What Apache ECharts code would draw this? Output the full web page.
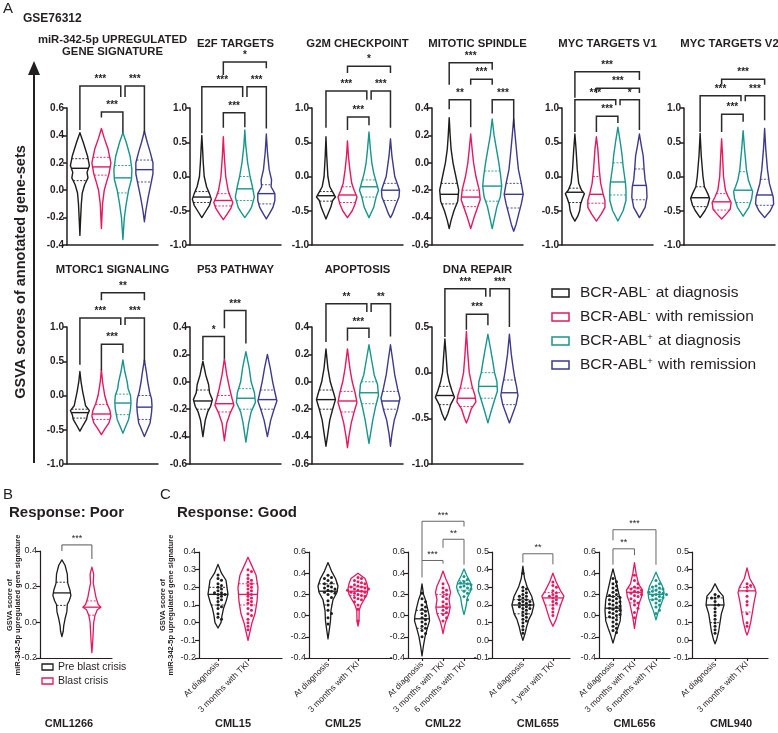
<!DOCTYPE html>
<html><head><meta charset="utf-8">
<script src="https://cdn.jsdelivr.net/npm/echarts@6/dist/echarts.min.js"></script>
<style>html,body{margin:0;padding:0;background:#fff}#c{width:778px;height:733px}</style>
</head><body><div id="c"></div>
<script>
// ================= DATA =================
// Panel A (GSE76312)
const groupNamesA = ['BCR-ABL{s|-} at diagnosis','BCR-ABL{s|-} with remission','BCR-ABL{s|+} at diagnosis','BCR-ABL{s|+} with remission'];
const titlesA = ['miR-342-5p UPREGULATED\nGENE SIGNATURE','E2F TARGETS','G2M CHECKPOINT','MITOTIC SPINDLE','MYC TARGETS V1','MYC TARGETS V2','MTORC1 SIGNALING','P53 PATHWAY','APOPTOSIS','DNA REPAIR'];
const yMinA = [-0.4,-1,-1,-0.6,-1,-1,-1,-0.6,-0.6,-1];
const yMaxA = [0.6,1,1,0.4,1,1,1,0.4,0.4,0.5];
const yStepA = [0.2,0.5,0.5,0.2,0.5,0.5,0.5,0.2,0.2,0.5];

// violin outlines: [value, relative half-width] from top to bottom
const shapeMiR = [
 [[0.42,0],[0.35,0.35],[0.25,0.8],[0.18,1.0],[0.13,0.75],[0.09,0.85],[0.04,0.5],[-0.02,0.25],[-0.1,0.15],[-0.2,0.08],[-0.33,0]],
 [[0.45,0],[0.38,0.3],[0.3,0.7],[0.2,1.0],[0.12,0.8],[0.05,0.5],[0.0,0.3],[-0.1,0.12],[-0.28,0]],
 [[0.42,0],[0.35,0.35],[0.25,0.75],[0.15,0.95],[0.08,0.9],[0.0,0.6],[-0.1,0.35],[-0.2,0.15],[-0.36,0]],
 [[0.43,0],[0.35,0.3],[0.28,0.6],[0.2,0.9],[0.12,0.9],[0.05,0.7],[-0.05,0.4],[-0.15,0.15],[-0.23,0]]];
const shapeE2F = [
 [[0.6,0],[0.4,0.08],[0.2,0.15],[0.0,0.25],[-0.15,0.5],[-0.25,0.8],[-0.33,1.0],[-0.42,0.8],[-0.5,0.45],[-0.6,0]],
 [[0.58,0],[0.3,0.1],[0.0,0.25],[-0.2,0.5],[-0.3,0.75],[-0.38,1.0],[-0.46,0.8],[-0.55,0.4],[-0.63,0]],
 [[0.68,0],[0.45,0.1],[0.2,0.3],[0.0,0.55],[-0.15,0.8],[-0.3,1.0],[-0.45,0.7],[-0.52,0.4],[-0.6,0]],
 [[0.62,0],[0.35,0.12],[0.1,0.3],[-0.05,0.55],[-0.15,0.5],[-0.25,0.9],[-0.35,0.9],[-0.45,0.7],[-0.55,0.3],[-0.62,0]]];
const shapeG2M = [
 [[0.58,0],[0.3,0.08],[0.0,0.2],[-0.15,0.4],[-0.25,0.8],[-0.3,1.0],[-0.35,0.7],[-0.45,0.5],[-0.55,0.2],[-0.62,0]],
 [[0.52,0],[0.3,0.1],[0.1,0.25],[-0.1,0.45],[-0.2,0.7],[-0.3,1.0],[-0.4,0.8],[-0.5,0.5],[-0.6,0]],
 [[0.65,0],[0.4,0.15],[0.2,0.3],[0.05,0.5],[-0.1,0.8],[-0.2,1.0],[-0.3,0.75],[-0.45,0.5],[-0.6,0]],
 [[0.55,0],[0.3,0.15],[0.1,0.35],[0.0,0.45],[-0.1,0.7],[-0.2,0.95],[-0.3,0.9],[-0.4,0.6],[-0.55,0.2],[-0.6,0]]];
const shapeMitotic = [
 [[0.33,0],[0.2,0.1],[0.1,0.2],[0.0,0.4],[-0.1,0.7],[-0.2,1.0],[-0.28,0.9],[-0.35,0.5],[-0.42,0.2],[-0.48,0]],
 [[0.21,0],[0.1,0.15],[0.0,0.3],[-0.1,0.55],[-0.2,0.9],[-0.27,1.0],[-0.33,0.7],[-0.4,0.35],[-0.48,0]],
 [[0.32,0],[0.2,0.2],[0.1,0.45],[0.0,0.7],[-0.1,0.9],[-0.17,1.0],[-0.25,0.85],[-0.32,0.5],[-0.4,0.25],[-0.48,0]],
 [[0.32,0],[0.2,0.15],[0.05,0.35],[-0.05,0.5],[-0.15,0.8],[-0.23,1.0],[-0.3,0.8],[-0.38,0.5],[-0.45,0.25],[-0.5,0]]];
const shapeMYC1 = [
 [[0.62,0],[0.4,0.12],[0.1,0.25],[-0.1,0.4],[-0.2,0.7],[-0.25,1.0],[-0.32,0.8],[-0.4,0.6],[-0.5,0.5],[-0.58,0.3],[-0.65,0]],
 [[0.58,0],[0.4,0.15],[0.1,0.3],[-0.1,0.45],[-0.25,0.7],[-0.35,0.9],[-0.45,0.9],[-0.55,0.5],[-0.65,0]],
 [[0.72,0],[0.5,0.25],[0.3,0.45],[0.15,0.55],[0.0,0.7],[-0.1,0.8],[-0.2,0.85],[-0.35,0.85],[-0.5,0.55],[-0.65,0]],
 [[0.62,0],[0.45,0.2],[0.3,0.4],[0.1,0.5],[-0.05,0.6],[-0.15,0.75],[-0.3,0.8],[-0.45,0.6],[-0.6,0]]];
const shapeMYC2 = [
 [[0.63,0],[0.3,0.12],[0.0,0.3],[-0.15,0.45],[-0.25,0.8],[-0.32,1.0],[-0.42,0.8],[-0.5,0.5],[-0.6,0]],
 [[0.55,0],[0.3,0.1],[0.0,0.2],[-0.2,0.4],[-0.3,0.7],[-0.38,1.0],[-0.48,0.9],[-0.56,0.4],[-0.62,0]],
 [[0.67,0],[0.4,0.15],[0.1,0.35],[-0.05,0.55],[-0.15,0.8],[-0.22,1.0],[-0.32,0.9],[-0.45,0.6],[-0.58,0]],
 [[0.7,0],[0.4,0.12],[0.1,0.3],[-0.1,0.5],[-0.2,0.7],[-0.3,0.9],[-0.4,0.95],[-0.5,0.6],[-0.6,0]]];
const shapeMTORC1 = [
 [[0.35,0],[0.2,0.12],[0.05,0.3],[-0.05,0.45],[-0.15,0.6],[-0.22,1.0],[-0.28,0.8],[-0.35,0.7],[-0.42,0.4],[-0.52,0]],
 [[0.38,0],[0.2,0.12],[0.0,0.35],[-0.12,0.6],[-0.22,0.9],[-0.3,1.0],[-0.4,0.8],[-0.48,0.4],[-0.57,0]],
 [[0.52,0],[0.35,0.2],[0.2,0.45],[0.1,0.55],[0.0,0.8],[-0.1,0.85],[-0.2,0.8],[-0.35,0.6],[-0.45,0.3],[-0.55,0]],
 [[0.52,0],[0.35,0.2],[0.2,0.35],[0.05,0.55],[-0.05,0.75],[-0.15,0.8],[-0.25,0.75],[-0.4,0.6],[-0.5,0.3],[-0.6,0]]];
const shapeP53 = [
 [[0.15,0],[0.05,0.3],[-0.02,0.6],[-0.08,0.7],[-0.13,1.0],[-0.18,0.8],[-0.22,0.5],[-0.28,0.25],[-0.4,0]],
 [[0.17,0],[0.05,0.25],[-0.05,0.55],[-0.12,0.8],[-0.17,1.0],[-0.23,0.6],[-0.3,0.25],[-0.43,0]],
 [[0.22,0],[0.1,0.35],[0.0,0.55],[-0.08,0.9],[-0.15,1.0],[-0.22,0.55],[-0.3,0.3],[-0.44,0]],
 [[0.2,0],[0.1,0.3],[0.0,0.55],[-0.08,0.8],[-0.14,1.0],[-0.2,0.7],[-0.28,0.35],[-0.4,0]]];
const shapeApop = [
 [[0.24,0],[0.1,0.2],[0.0,0.45],[-0.08,0.8],[-0.13,1.0],[-0.2,0.7],[-0.28,0.4],[-0.4,0.15],[-0.47,0]],
 [[0.24,0],[0.1,0.25],[0.0,0.5],[-0.08,0.8],[-0.15,1.0],[-0.22,0.7],[-0.3,0.4],[-0.4,0.15],[-0.48,0]],
 [[0.27,0],[0.15,0.3],[0.05,0.55],[-0.02,0.9],[-0.1,1.0],[-0.18,0.7],[-0.28,0.4],[-0.45,0]],
 [[0.27,0],[0.15,0.25],[0.05,0.45],[-0.05,0.75],[-0.12,1.0],[-0.2,0.75],[-0.28,0.4],[-0.38,0.15],[-0.47,0]]];
const shapeDNA = [
 [[0.37,0],[0.2,0.12],[0.0,0.25],[-0.1,0.45],[-0.2,0.75],[-0.27,1.0],[-0.35,0.6],[-0.45,0.3],[-0.52,0]],
 [[0.45,0],[0.2,0.15],[0.0,0.3],[-0.15,0.6],[-0.25,0.9],[-0.32,1.0],[-0.4,0.5],[-0.5,0.2],[-0.55,0]],
 [[0.42,0],[0.25,0.3],[0.1,0.55],[0.0,0.7],[-0.1,0.95],[-0.2,1.0],[-0.3,0.7],[-0.42,0.35],[-0.55,0]],
 [[0.42,0],[0.2,0.2],[0.05,0.4],[-0.05,0.55],[-0.15,0.75],[-0.25,0.9],[-0.35,0.7],[-0.45,0.35],[-0.55,0]]];
const shapesA = [shapeMiR,shapeE2F,shapeG2M,shapeMitotic,shapeMYC1,shapeMYC2,shapeMTORC1,shapeP53,shapeApop,shapeDNA];

const medA = [
 [0.16,0.17,0.09,0.15],[-0.30,-0.35,-0.18,-0.25],[-0.28,-0.27,-0.15,-0.20],[-0.23,-0.25,-0.17,-0.23],
 [-0.23,-0.26,-0.08,-0.13],[-0.31,-0.37,-0.20,-0.27],[-0.25,-0.27,-0.11,-0.17],[-0.14,-0.16,-0.12,-0.13],
 [-0.13,-0.14,-0.08,-0.14],[-0.25,-0.28,-0.15,-0.22]];
const quartA = [
 [[0.23,0.07],[0.24,0.11],[0.18,-0.02],[0.22,0.06]],
 [[-0.22,-0.38],[-0.25,-0.43],[0.0,-0.35],[-0.12,-0.4]],
 [[-0.22,-0.36],[-0.15,-0.38],[-0.05,-0.3],[-0.1,-0.35]],
 [[-0.15,-0.3],[-0.2,-0.32],[-0.06,-0.28],[-0.15,-0.33]],
 [[-0.17,-0.38],[0.0,-0.39],[0.2,-0.27],[0.11,-0.34]],
 [[-0.15,-0.44],[-0.25,-0.49],[0.07,-0.38],[-0.04,-0.42]],
 [[-0.2,-0.33],[-0.13,-0.35],[0.02,-0.28],[0.0,-0.35]],
 [[-0.06,-0.2],[-0.1,-0.22],[-0.05,-0.2],[-0.06,-0.2]],
 [[-0.06,-0.2],[-0.07,-0.22],[0.0,-0.16],[-0.07,-0.2]],
 [[-0.15,-0.35],[-0.17,-0.37],[0.0,-0.28],[-0.08,-0.35]]];
// significance brackets: [group i, group j, bar value, left leg end, right leg end, label, left shift, right shift]
const sigA = [
 [[0,2,0.76,0.44,0.68,'***',0,-0.1],[2,3,0.76,0.68,0.42,'***',0.1,0],[1,2,0.57,0.53,0.42,'***',0,0]],
 [[1,3,1.67,1.48,1.58,'*',0,0],[0,2,1.31,0.63,1.16,'***',0,-0.1],[2,3,1.31,1.16,0.7,'***',0.1,0],[1,2,0.93,0.71,0.72,'***',0,0]],
 [[1,3,1.61,1.51,1.51,'*',0,0],[0,2,1.25,0.71,1.12,'***',0,-0.1],[2,3,1.25,1.12,0.71,'***',0.1,0],[1,2,0.87,0.68,0.75,'***',0,0]],
 [[0,2,0.73,0.57,0.68,'***',0,0],[1,2,0.61,0.57,0.57,'***',0,0],[0,1,0.46,0.39,0.26,'**',0,0],[2,3,0.46,0.36,0.26,'***',0,0]],
 [[0,3,1.53,1.15,1.41,'***',0,0],[1,3,1.29,1.22,1.22,'***',0,0],[0,2,1.12,0.65,1.04,'***',0,-0.1],[2,3,1.12,1.04,0.68,'*',0.1,0],[1,2,0.88,0.65,0.78,'***',0,0]],
 [[1,3,1.42,1.34,1.34,'***',0,0],[0,2,1.18,0.65,1.1,'***',0,-0.1],[2,3,1.18,1.1,0.82,'***',0.1,0],[1,2,0.91,0.65,0.8,'***',0,0]],
 [[1,3,1.5,1.39,1.39,'**',0,0],[0,2,1.13,0.45,1.03,'***',0,-0.1],[2,3,1.13,1.03,0.49,'***',0.1,0],[1,2,0.75,0.37,0.62,'***',0,0]],
 [[0,1,0.33,0.16,0.17,'*',0,0],[1,2,0.52,0.39,0.28,'***',0,0]],
 [[0,2,0.57,0.29,0.51,'**',0,-0.1],[2,3,0.57,0.51,0.33,'**',0.1,0],[1,2,0.39,0.3,0.32,'***',0,0]],
 [[0,2,0.92,0.39,0.83,'***',0,-0.1],[2,3,0.92,0.83,0.5,'***',0.1,0],[1,2,0.64,0.47,0.52,'***',0,0]]];

// Panel B (Response: Poor, CML1266)
const groupNamesB = ['Pre blast crisis','Blast crisis'];
const shapeB = [
 [[0.35,0],[0.32,0.35],[0.27,0.6],[0.22,0.65],[0.18,0.9],[0.15,1.0],[0.12,0.8],[0.1,0.6],[0.06,0.55],[0.02,0.35],[-0.02,0.2],[-0.05,0.15],[-0.08,0]],
 [[0.31,0],[0.27,0.2],[0.22,0.15],[0.18,0.3],[0.14,0.45],[0.1,0.7],[0.085,1.0],[0.07,0.6],[0.04,0.35],[0.0,0.2],[-0.05,0.15],[-0.1,0.1],[-0.17,0]]];
const medB = [0.165,0.085];
const quartB = [[0.225,0.095],[0.12,0.04]];
const sigB = [[0,1,0.434,0.40,0.355,'***',0,0]];

// Panel C (Response: Good)
const namesC = ['CML15','CML25','CML22','CML655','CML656','CML940'];
const catsC = [
 ['At diagnosis','3 months with TKI'],['At diagnosis','3 months with TKI'],
 ['At diagnosis','3 months with TKI','6 months with TKI'],['At diagnosis','1 year with TKI'],
 ['At diagnosis','3 months with TKI','6 months with TKI'],['At diagnosis','3 months with TKI']];
const yMinC = [-0.2,-0.4,-0.4,-0.1,-0.4,-0.1];
const yMaxC = [0.4,0.6,0.6,0.5,0.6,0.5];
const yStepC = [0.1,0.2,0.2,0.1,0.2,0.1];
const shapesC = [
 [[[0.33,0],[0.28,0.35],[0.24,0.8],[0.2,0.9],[0.16,1.0],[0.12,0.8],[0.08,0.55],[0.04,0.4],[0.0,0.3],[-0.03,0]],
  [[0.37,0],[0.32,0.4],[0.27,0.8],[0.2,1.0],[0.12,0.9],[0.05,0.7],[0.0,0.4],[-0.05,0.2],[-0.1,0]]],
 [[[0.5,0],[0.42,0.35],[0.35,0.75],[0.28,1.0],[0.22,0.9],[0.15,0.5],[0.05,0.3],[-0.05,0.25],[-0.12,0.15],[-0.22,0]],
  [[0.4,0],[0.35,0.7],[0.3,0.9],[0.25,1.0],[0.2,0.9],[0.15,0.6],[0.1,0.3],[0.05,0.12],[-0.05,0.1],[-0.1,0]]],
 [[[0.3,0],[0.2,0.2],[0.15,0.45],[0.08,0.7],[0.0,0.95],[-0.05,1.0],[-0.12,0.7],[-0.2,0.4],[-0.28,0.2],[-0.38,0]],
  [[0.42,0],[0.35,0.35],[0.28,0.8],[0.22,1.0],[0.15,0.8],[0.08,0.95],[0.02,0.8],[-0.05,0.4],[-0.1,0.2],[-0.17,0]],
  [[0.44,0],[0.38,0.35],[0.32,0.8],[0.27,1.0],[0.22,0.8],[0.17,0.45],[0.1,0.3],[0.05,0.15],[0.01,0]]],
 [[[0.42,0],[0.35,0.15],[0.3,0.4],[0.25,0.8],[0.2,1.0],[0.15,0.8],[0.12,0.55],[0.08,0.35],[0.04,0.2],[0.0,0]],
  [[0.38,0],[0.33,0.3],[0.28,0.7],[0.25,1.0],[0.2,0.7],[0.15,0.45],[0.12,0.3],[0.08,0]]],
 [[[0.44,0],[0.35,0.3],[0.25,0.6],[0.15,0.9],[0.05,1.0],[-0.05,0.9],[-0.12,0.6],[-0.18,0.3],[-0.26,0]],
  [[0.5,0],[0.4,0.2],[0.3,0.5],[0.24,1.0],[0.18,0.9],[0.12,0.6],[0.05,0.4],[-0.02,0.2],[-0.12,0]],
  [[0.41,0],[0.34,0.4],[0.28,0.8],[0.22,1.0],[0.16,0.9],[0.1,0.6],[0.04,0.3],[-0.04,0]]],
 [[[0.32,0],[0.28,0.4],[0.25,0.9],[0.2,1.0],[0.15,0.7],[0.1,0.55],[0.05,0.4],[0.0,0.15],[-0.02,0]],
  [[0.41,0],[0.35,0.3],[0.3,0.85],[0.27,1.0],[0.22,0.8],[0.16,0.6],[0.1,0.4],[0.05,0.15],[0.03,0]]]];
const medC = [[0.16,0.16],[0.23,0.23],[-0.03,0.08,0.3],[0.2,0.24],[0.07,0.22,0.2],[0.2,0.28]];
const quartC = [
 [[0.2,0.1],[0.22,0.1]],[[0.3,0.1],[0.27,0.19]],[[0.05,-0.12],[0.2,0.02],[0.33,0.24]],
 [[0.23,0.15],[0.27,0.2]],[[0.18,-0.02],[0.26,0.12],[0.25,0.15]],[[0.24,0.1],[0.3,0.16]]];
const dotsC = [
 [[0.27,0.25,0.24,0.22,0.21,0.2,0.19,0.18,0.17,0.17,0.16,0.16,0.15,0.14,0.13,0.12,0.1,0.09,0.08,0.05,0.03,0.02],
  [0.3,0.29,0.27,0.25,0.24,0.23,0.22,0.21,0.2,0.19,0.18,0.17,0.16,0.15,0.14,0.13,0.12,0.11,0.1,0.08,0.07,0.05,0.04,0.02,0.0,-0.02,-0.04]],
 [[0.38,0.36,0.35,0.33,0.31,0.3,0.28,0.27,0.26,0.25,0.24,0.23,0.22,0.21,0.2,0.17,0.14,0.1,0.05,0.02,-0.02,-0.08],
  [0.36,0.35,0.33,0.32,0.31,0.3,0.29,0.28,0.27,0.27,0.26,0.25,0.25,0.24,0.24,0.23,0.22,0.22,0.21,0.2,0.19,0.18,0.17,0.16,0.15,0.13,0.1,0.06,-0.05]],
 [[0.21,0.16,0.13,0.1,0.08,0.06,0.04,0.02,0.0,-0.02,-0.04,-0.06,-0.08,-0.1,-0.12,-0.14,-0.17,-0.2],
  [0.3,0.26,0.24,0.22,0.2,0.18,0.16,0.13,0.11,0.09,0.07,0.05,0.03,0.01,-0.02,-0.05],
  [0.37,0.34,0.32,0.31,0.3,0.29,0.28,0.27,0.26,0.25,0.23,0.21,0.18,0.15]],
 [[0.38,0.3,0.29,0.28,0.27,0.26,0.25,0.25,0.24,0.23,0.23,0.22,0.22,0.21,0.21,0.2,0.2,0.19,0.19,0.18,0.18,0.17,0.16,0.15,0.14,0.13,0.12,0.11,0.1,0.08,0.06,0.04],
  [0.33,0.31,0.3,0.28,0.27,0.26,0.25,0.25,0.24,0.23,0.22,0.21,0.2,0.18,0.16,0.14]],
 [[0.35,0.32,0.3,0.28,0.26,0.24,0.22,0.2,0.19,0.18,0.17,0.16,0.15,0.14,0.13,0.12,0.11,0.1,0.09,0.08,0.07,0.06,0.05,0.04,0.03,0.02,0.01,0.0,-0.01,-0.02,-0.04,-0.06,-0.08,-0.1,-0.12,-0.14,-0.16],
  [0.38,0.33,0.3,0.27,0.26,0.25,0.24,0.23,0.22,0.21,0.2,0.19,0.18,0.16,0.14,0.12,0.1,0.07,0.03,-0.02],
  [0.33,0.3,0.28,0.27,0.26,0.25,0.24,0.23,0.22,0.22,0.21,0.2,0.2,0.19,0.18,0.17,0.16,0.15,0.14,0.12,0.1,0.08,0.05,0.02]],
 [[0.26,0.25,0.24,0.24,0.22,0.2,0.2,0.18,0.16,0.14,0.12,0.1,0.08,0.06,0.04],
  [0.32,0.31,0.3,0.28,0.25,0.22,0.2,0.15,0.1,0.08]]];
const sigC = [[],[],
 [[0,2,0.89,0.52,0.84,'***',0,0],[1,2,0.72,0.64,0.48,'**',0,0],[0,1,0.52,0.36,0.49,'***',0,0]],
 [[0,1,0.49,0.44,0.43,'**',0,0]],
 [[0,2,0.81,0.71,0.48,'***',0,0],[0,1,0.63,0.48,0.57,'**',0,0]],[]];

// ================= LAYOUT / STYLE =================
const COLORS = ['#1d1d1b','#e5195e','#17968c','#3d3a8d'];
const INK = '#231f20';
const FONT = '"Liberation Sans", Arial, Helvetica, sans-serif';
// [left, top, width, height, xMin]
const layoutA = [[67,108,91,137,-0.6],[190,108,91,137,-0.55],[312,108,91,137,-0.65],[432,108,91,137,-0.8],[562,108,91,137,-0.6],[684,108,91,137,-0.75],
                 [67,327,91,137,-0.6],[190,327,91,137,-0.6],[312,327,91,137,-0.65],[432,327,91,137,-0.6]];
const unitA = 21.5;
// [left, top, width, height, xMin, unitPx, halfWidthPx]
const layoutC = [[199,552,83,106,-0.633,30,10],[309,552,83,106,-0.633,30,10],[408,552,70,106,-0.667,21,7.5],
                 [492,552,78,106,-1.03,30,11],[599,552,71,106,-0.65,21.5,8],[692,552,76,106,-0.72,32,9]];
const layoutB = [40,551,72,107,-0.73,30,9];
const DOT_R = 1.5;

const option = {animation:false, grid:[], xAxis:[], yAxis:[], series:[], graphic:{elements:[]}};
const G = option.graphic.elements;

function fmt1(v){ if (Math.abs(v) < 1e-9) v = 0; return v.toFixed(1); }
function interpW(shape, y){
  for (let k=0;k<shape.length-1;k++){
    const [y0,w0]=shape[k],[y1,w1]=shape[k+1];
    if (y<=y0 && y>=y1) return w0 + (w1-w0)*(y-y0)/(y1-y0);
  }
  return 0;
}
function swarm(pys, r){
  const d = 2*r + 0.5, placed = [], out = new Array(pys.length);
  const order = pys.map((y,k)=>k).sort((a,b)=>pys[a]-pys[b]);
  order.forEach(k=>{
    const y = pys[k];
    for (let s=0;s<60;s++){
      const off = s===0 ? 0 : (s%2 ? 1 : -1)*Math.ceil(s/2)*d;
      if (placed.every(p => (p[0]-off)*(p[0]-off) + (p[1]-y)*(p[1]-y) >= d*d*0.9)) { placed.push([off,y]); out[k]=off; break; }
    }
  });
  return out;
}
function txt(text, x, y, font, o){
  o = o || {};
  return {type:'text', x:x, y:y, rotation:o.rot||0, silent:true,
    style:{text:text, font:font, fill:o.fill||INK, textAlign:o.align||'left', align:o.align||'left',
      textVerticalAlign:o.va||'middle', verticalAlign:o.va||'middle', lineHeight:o.lh, rich:o.rich}};
}

function addPlot(c){
  const gi = option.grid.length;
  option.grid.push({left:c.left, top:c.top, width:c.width, height:c.height});
  const axisLineStyle = {color:INK, width:c.axisW};
  const xa = {type:'value', gridIndex:gi, min:c.xMin, max:c.xMax, splitLine:{show:false},
    axisLine:{show:true, onZero:false, lineStyle:axisLineStyle}, axisTick:{show:false}, axisLabel:{show:false}};
  if (c.cats){
    const idx = c.cats.map((_,i)=>i);
    xa.axisTick = {show:true, customValues:idx, length:3, lineStyle:axisLineStyle};
    xa.axisLabel = {show:true, customValues:idx, rotate:45, margin:5, fontSize:8.5, fontFamily:FONT, color:INK,
      formatter:v=>c.cats[Math.round(v)]};
  }
  option.xAxis.push(xa);
  option.yAxis.push({type:'value', gridIndex:gi, min:c.yMin, max:c.yMax, interval:c.yStep, splitLine:{show:false},
    axisLine:{show:true, onZero:false, lineStyle:axisLineStyle}, axisTick:{show:true, length:4, lineStyle:axisLineStyle},
    axisLabel:{formatter:fmt1, fontSize:c.tickFont, fontWeight:c.tickBold?'bold':'normal', fontFamily:FONT, color:INK, margin:3}});
  option.series.push({type:'custom', xAxisIndex:gi, yAxisIndex:gi, silent:true, clip:false,
    data:c.med.map((m,i)=>[i,m]),
    renderItem:function(params, api){
      const i = params.dataIndex, shape = c.shapes[i], col = c.colors[i], H = c.H;
      const cx = api.coord([i, shape[0][0]])[0];
      const pts = [];
      shape.forEach(([y,w]) => pts.push([cx + w*H, api.coord([i,y])[1]]));
      for (let k=shape.length-2;k>=1;k--){ const [y,w]=shape[k]; pts.push([cx - w*H, api.coord([i,y])[1]]); }
      const ch = [{type:'polygon', shape:{points:pts}, style:{fill:'none', stroke:col, lineWidth:c.lw, lineJoin:'round'}}];
      const hl = (y, dash) => { const w = interpW(shape,y)*H, py = api.coord([i,y])[1];
        return {type:'line', shape:{x1:cx-w, y1:py, x2:cx+w, y2:py}, style:{stroke:col, lineWidth:dash?0.9:c.lw, lineDash:dash?[2,1.5]:null}}; };
      ch.push(hl(c.med[i], false));
      c.quart[i].forEach(q => ch.push(hl(q, true)));
      if (c.dots){
        const pys = c.dots[i].map(v => api.coord([i,v])[1]);
        const offs = swarm(pys, DOT_R);
        pys.forEach((py,k) => ch.push({type:'circle', shape:{cx:cx+offs[k], cy:py, r:DOT_R}, style:{fill:col}}));
      }
      return {type:'group', children:ch};
    }});
  if (c.sig && c.sig.length){
    option.series.push({type:'custom', xAxisIndex:gi, yAxisIndex:gi, silent:true, clip:false,
      data:c.sig.map(b=>[b[0], c.yMin]),
      renderItem:function(params, api){
        const b = c.sig[params.dataIndex];
        const x1 = api.coord([b[0]+b[6], 0])[0], x2 = api.coord([b[1]+b[7], 0])[0];
        const pT = api.coord([0,b[2]])[1], pL = api.coord([0,b[3]])[1], pR = api.coord([0,b[4]])[1];
        return {type:'group', children:[
          {type:'polyline', shape:{points:[[x1,pL],[x1,pT],[x2,pT],[x2,pR]]}, style:{fill:'none', stroke:c.sigColor, lineWidth:c.sigW}},
          {type:'text', x:(x1+x2)/2, y:pT-1.5, style:{text:b[5], font:c.sigFont, fill:INK, textAlign:'center', align:'center', textVerticalAlign:'bottom', verticalAlign:'bottom'}}
        ]};
      }});
  }
}

// ---- Panel A plots
layoutA.forEach((L,p) => {
  addPlot({left:L[0], top:L[1], width:L[2], height:L[3], xMin:L[4], xMax:L[4]+L[2]/unitA,
    yMin:yMinA[p], yMax:yMaxA[p], yStep:yStepA[p], shapes:shapesA[p], med:medA[p], quart:quartA[p], sig:sigA[p],
    colors:COLORS, H:9.5, lw:1.4, axisW:1.5, tickFont:10, tickBold:true, sigColor:'#2a2a2a', sigW:1.5, sigFont:'bold 10px '+FONT});
  const cx = L[0] + L[2]/2;
  const ty = p < 6 ? (p === 0 ? 46 : 44) : 270;
  G.push(txt(titlesA[p], cx, ty, 'bold 11.3px '+FONT, {align:'center', lh:12}));
});

// ---- Panel B
addPlot({left:layoutB[0], top:layoutB[1], width:layoutB[2], height:layoutB[3], xMin:layoutB[4], xMax:layoutB[4]+layoutB[2]/layoutB[5],
  yMin:-0.2, yMax:0.4, yStep:0.2, shapes:shapeB, med:medB, quart:quartB, sig:sigB, colors:COLORS, H:layoutB[6], lw:1.3, axisW:1.2,
  tickFont:9, tickBold:false, sigColor:'#555', sigW:1, sigFont:'9px '+FONT});

// ---- Panel C
layoutC.forEach((L,p) => {
  const xMax = L[4] + L[2]/L[5];
  addPlot({left:L[0], top:L[1], width:L[2], height:L[3], xMin:L[4], xMax:xMax, cats:catsC[p],
    yMin:yMinC[p], yMax:yMaxC[p], yStep:yStepC[p], shapes:shapesC[p], med:medC[p], quart:quartC[p], dots:dotsC[p], sig:sigC[p],
    colors:COLORS, H:L[6], lw:1.3, axisW:1.2, tickFont:9, tickBold:false, sigColor:'#666', sigW:1, sigFont:'9px '+FONT});
  const n = catsC[p].length;
  const cx = L[0] + ((n-1)/2 - L[4]) * L[5];
  G.push(txt(namesC[p], cx, 724, 'bold 11px '+FONT, {align:'center'}));
});

// ---- Text & decorations
G.push(txt('A', 3, 9, '15px '+FONT));
G.push(txt('GSE76312', 23, 19, 'bold 12px '+FONT));
G.push(txt('GSVA scores of annotated gene-sets', 21, 272, 'bold 14.5px '+FONT, {align:'center', rot:Math.PI/2}));
G.push({type:'line', silent:true, shape:{x1:34, y1:463, x2:34, y2:72}, style:{stroke:INK, lineWidth:2}});
G.push({type:'polygon', silent:true, shape:{points:[[34,61],[28,75],[40,75]]}, style:{fill:INK}});
const richSup = {s:{fontSize:9.5, fontFamily:FONT, verticalAlign:'top', padding:[0,1,7,0], fill:INK}};
groupNamesA.forEach((nm,i) => {
  const y = 293 + i*24;
  G.push({type:'rect', silent:true, shape:{x:552, y:y-4, width:17, height:8}, style:{fill:'none', stroke:COLORS[i], lineWidth:1.5}});
  G.push(txt(nm, 580, y, '15.5px '+FONT, {rich:richSup}));
});
G.push(txt('B', 3, 495, '15px '+FONT));
G.push(txt('Response: Poor', 9, 513, 'bold 15px '+FONT));
G.push(txt('C', 160, 495, '15px '+FONT));
G.push(txt('Response: Good', 177, 513, 'bold 15px '+FONT));
groupNamesB.forEach((nm,i) => {
  const y = 667 + i*14;
  G.push({type:'rect', silent:true, shape:{x:42, y:y-3, width:11, height:6}, style:{fill:'none', stroke:COLORS[i], lineWidth:1.3}});
  G.push(txt(nm, 58, y, '10.5px '+FONT));
});
G.push(txt('CML1266', 69, 724, 'bold 11px '+FONT, {align:'center'}));
G.push(txt('GSVA score of\nmiR-342-5p upregulated gene signature', 14, 605, 'bold 7.5px '+FONT, {align:'center', rot:Math.PI/2, lh:8.5}));
G.push(txt('GSVA score of\nmiR-342-5p upregulated gene signature', 167, 605, 'bold 7.5px '+FONT, {align:'center', rot:Math.PI/2, lh:8.5}));

const chart = echarts.init(document.getElementById('c'), null, {renderer:'canvas'});
chart.setOption(option);
</script></body></html>
